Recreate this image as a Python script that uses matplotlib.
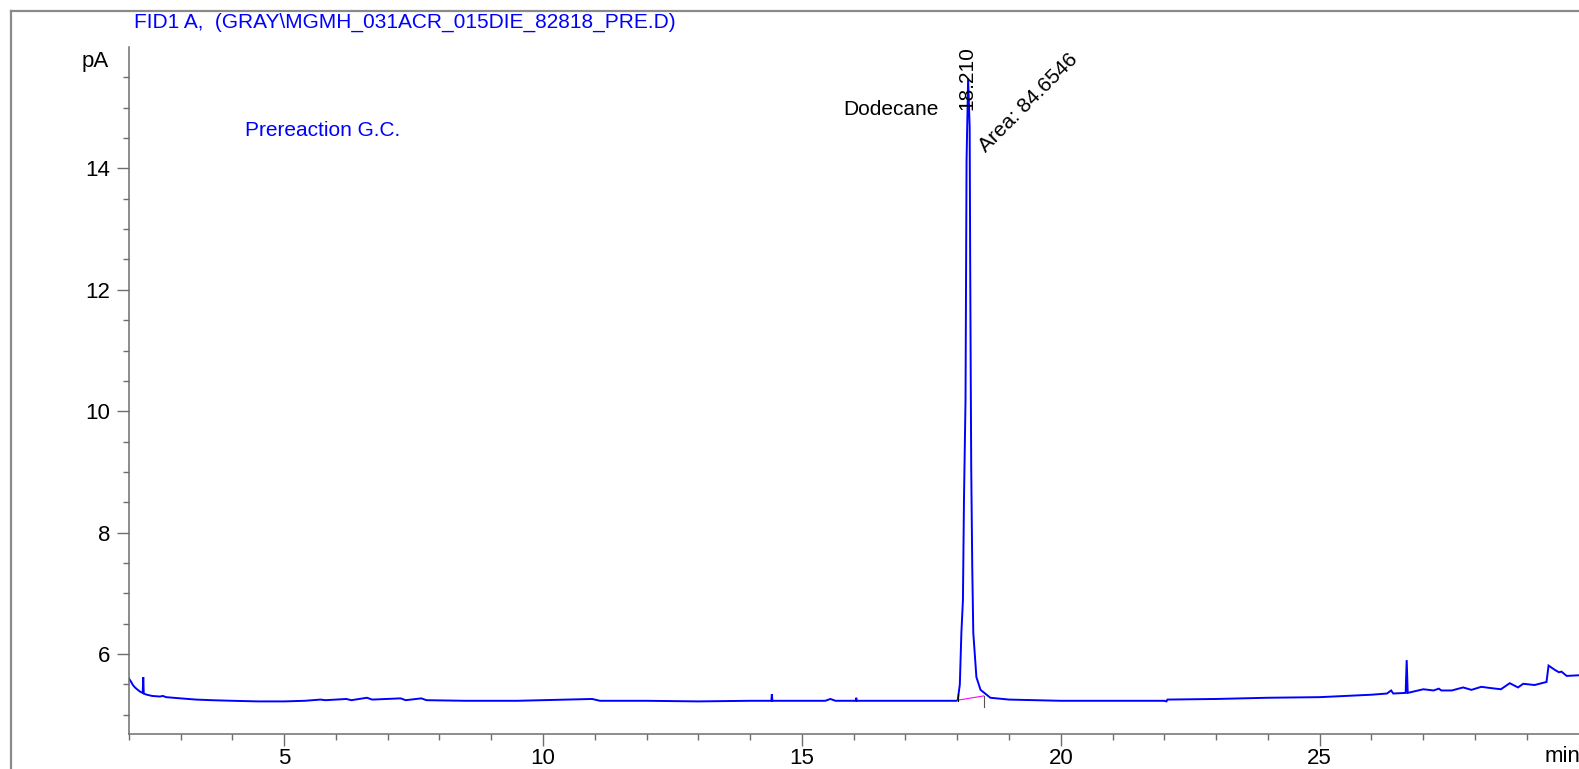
import matplotlib
matplotlib.use("Agg")
import matplotlib.pyplot as plt
from matplotlib.lines import Line2D
from matplotlib.ticker import FixedLocator, NullFormatter

plt.rcParams['font.family'] = ['Liberation Sans', 'DejaVu Sans']

# FID1 A signal, retention time (min) vs detector current (pA)
time_min = [
    2.00, 2.04, 2.08, 2.12, 2.16, 2.22, 2.27, 2.28, 2.29, 2.35, 2.45, 2.60,
    2.66, 2.72, 3.00, 3.30, 3.60, 4.00, 4.50, 5.00, 5.40, 5.70, 5.80, 6.20,
    6.30, 6.60, 6.70, 7.25, 7.35, 7.65, 7.75, 8.50, 9.50, 10.95, 11.10, 12.00,
    13.00, 14.00, 14.41, 14.42, 14.43, 15.00, 15.45, 15.55, 15.65, 16.04, 16.05,
    16.06, 17.00, 17.98,
    18.01, 18.05, 18.08, 18.11, 18.13, 18.16, 18.18, 18.21, 18.24, 18.25, 18.26,
    18.27, 18.29, 18.31, 18.37, 18.45, 18.64, 19.00,
    20.00, 21.00, 22.00, 22.04, 22.06, 23.00, 24.00, 25.00, 25.50, 26.00, 26.30,
    26.38, 26.42, 26.66, 26.68, 26.70, 26.80, 27.00, 27.20, 27.30, 27.35, 27.55,
    27.77, 27.93, 28.12, 28.30, 28.50, 28.67, 28.83, 28.93, 29.15, 29.38, 29.42,
    29.54, 29.62, 29.67, 29.77, 30.00,
]
signal_pa = [
    5.60, 5.55, 5.49, 5.45, 5.42, 5.38, 5.36, 5.62, 5.35, 5.33, 5.31, 5.30,
    5.31, 5.29, 5.27, 5.25, 5.24, 5.23, 5.22, 5.22, 5.23, 5.25, 5.24, 5.26,
    5.24, 5.28, 5.25, 5.27, 5.24, 5.27, 5.24, 5.23, 5.23, 5.26, 5.23, 5.23,
    5.22, 5.23, 5.23, 5.34, 5.23, 5.23, 5.23, 5.26, 5.23, 5.23, 5.28,
    5.23, 5.23, 5.23,
    5.24, 5.50, 6.35, 6.89, 8.53, 10.18, 14.13, 15.48, 14.68, 12.49, 10.72,
    9.08, 7.43, 6.35, 5.62, 5.41, 5.28, 5.25,
    5.23, 5.23, 5.23, 5.22, 5.25, 5.26, 5.28, 5.29, 5.31, 5.33, 5.35,
    5.40, 5.35, 5.36, 5.90, 5.36, 5.38, 5.42, 5.40, 5.43, 5.40, 5.40,
    5.45, 5.41, 5.46, 5.44, 5.42, 5.52, 5.45, 5.51, 5.49, 5.54, 5.81,
    5.74, 5.70, 5.71, 5.64, 5.65,
]

# Integrated peak: retention time, area, and baseline drawn under it
peak_rt = 18.210
peak_area = 84.6546
peak_name = "Dodecane"
peak_bounds = [18.01, 18.51]
peak_baseline = [5.24, 5.31]

x_major = [5, 10, 15, 20, 25]
y_major = [6, 8, 10, 12, 14]

W, H = 1579, 769
fig = plt.figure(figsize=(W / 100, H / 100), dpi=100)

ax = fig.add_axes([128.75 / W, 35 / H, (1578.6 - 128.75) / W, (734 - 47) / H])
ax.set_xlim(2, 30)
ax.set_ylim(4.683, 16.0)

ax.plot(time_min, signal_pa, color='#0000ff', lw=1.4, solid_joinstyle='miter')
ax.plot(peak_bounds, peak_baseline, color='#ff00ff', lw=0.8)
# integration start / stop marks
ax.plot([peak_bounds[0]] * 2, [peak_baseline[0] - 0.01, peak_baseline[0] + 0.10],
        color='black', lw=0.8)
ax.plot([peak_bounds[1]] * 2, [peak_baseline[1] - 0.18, peak_baseline[1]],
        color='#555555', lw=0.8)

for side in ('top', 'right'):
    ax.spines[side].set_visible(False)
for side in ('left', 'bottom'):
    ax.spines[side].set_color('#6e6e6e')
    ax.spines[side].set_linewidth(1.1)

ax.xaxis.set_major_locator(FixedLocator(x_major))
ax.xaxis.set_minor_locator(FixedLocator([v for v in range(2, 30) if v % 5]))
ax.yaxis.set_major_locator(FixedLocator(y_major))
ax.yaxis.set_minor_locator(FixedLocator([v / 2 for v in range(10, 32) if v % 4]))
ax.xaxis.set_minor_formatter(NullFormatter())
ax.yaxis.set_minor_formatter(NullFormatter())
ax.tick_params(which='major', direction='out', length=8.6, width=1.0,
               color='#6e6e6e', labelsize=16, labelcolor='black')
ax.tick_params(which='minor', direction='out', length=4.0, width=1.0,
               color='#6e6e6e')
ax.tick_params(axis='x', which='major', pad=1.5)
ax.tick_params(axis='y', which='major', pad=4.5)

ax.text(17.64, 14.97, peak_name, fontsize=15, ha='right', va='center')
ax.text(peak_rt - 0.02, 14.97, f"{peak_rt:.3f}", fontsize=15, rotation=90,
        ha='center', va='bottom')
ax.text(18.35, 14.2, f"Area: {peak_area:.4f}", fontsize=15, rotation=45,
        ha='left', va='bottom')

fig.text(134 / W, 1 - 22 / H, "FID1 A,  (GRAY\\MGMH_031ACR_015DIE_82818_PRE.D)",
         color='#0000ff', fontsize=15, ha='left', va='center')
fig.text(245 / W, 1 - 131 / H, "Prereaction G.C.", color='#0000ff',
         fontsize=15, ha='left', va='center')
fig.text(109 / W, 1 - 62 / H, "pA", fontsize=16, ha='right', va='center')
fig.text(1545 / W, 2 / H, "min", fontsize=16, ha='left', va='bottom')

# outer frame of the report page
fig.add_artist(Line2D([11 / W, 11 / W], [0, 1 - 11 / H], color='#8a8a8a',
                      lw=1.6, transform=fig.transFigure))
fig.add_artist(Line2D([11 / W, 1], [1 - 11 / H, 1 - 11 / H], color='#8a8a8a',
                      lw=1.6, transform=fig.transFigure))

fig.savefig("out.png", dpi=100)
